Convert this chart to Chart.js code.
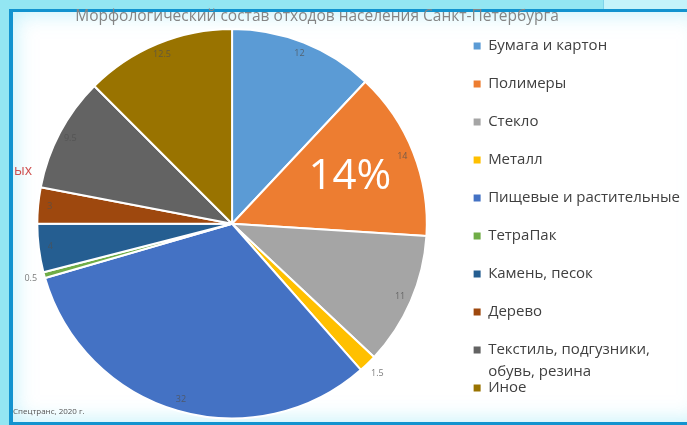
<!DOCTYPE html>
<html>
<head>
<meta charset="utf-8">
<script src="https://cdn.jsdelivr.net/npm/chart.js"></script>
<style>
html, body { margin: 0; padding: 0; width: 687px; height: 425px; overflow: hidden; background: #93e6f2; }
#panel { position: absolute; left: 9px; top: 9px; width: 690px; height: 410px; background: #fff;
  border-left: 4px solid #1293cf; border-top: 3px solid #1293cf; border-bottom: 3px solid #1293cf;
  box-shadow: inset 0 0 22px rgba(130, 225, 245, .55); }
#corner { position: absolute; left: 603px; top: 0; width: 84px; height: 9px; background: #c4f3fa; border-left: 1px solid #7fd3ea; }
#myChart { position: absolute; left: 0; top: 0; }
.note { position: absolute; font-family: 'Open Sans', sans-serif; white-space: nowrap; }
</style>
</head>
<body>
<div id="panel"></div>
<div id="corner"></div>
<canvas id="myChart" width="700" height="425"></canvas>
<div class="note" style="left:14px;top:160px;font-size:14px;color:#d0504f;">ых</div>
<div class="note" style="left:13px;top:405px;font-size:8px;color:#555;">Спецтранс, 2020 г.</div>
<script>
const chartTitle = 'Морфологический состав отходов населения Санкт-Петербурга';
const categories = [
    'Бумага и картон',
    'Полимеры',
    'Стекло',
    'Металл',
    'Пищевые и растительные',
    'ТетраПак',
    'Камень, песок',
    'Дерево',
    ['Текстиль, подгузники,', 'обувь, резина'],
    'Иное'
];
const shares = [12, 14, 11, 1.5, 32, 0.5, 4, 3, 9.5, 12.5];
const sliceColors = ['#5B9BD5', '#ED7D31', '#A5A5A5', '#FFC000', '#4472C4', '#70AD47', '#255E91', '#9E480E', '#636363', '#997300'];
const highlightIndex = 1;

const font = "'Open Sans', sans-serif";
const titleCenterX = 317;

// подписи значений на секторах + крупная подпись "14%"
const sliceLabels = {
    id: 'sliceLabels',
    afterLayout(chart) {
        // заголовок в оригинале смещён левее центра всего слайда
        const t = chart.titleBlock;
        const dx = titleCenterX - (t.left + t.right) / 2;
        t.left += dx;
        t.right += dx;
    },
    afterDatasetsDraw(chart) {
        const ctx = chart.ctx;
        const meta = chart.getDatasetMeta(0);
        ctx.save();
        ctx.textAlign = 'center';
        ctx.textBaseline = 'middle';
        meta.data.forEach((arc, i) => {
            const v = shares[i];
            const mid = (arc.startAngle + arc.endAngle) / 2;
            const r = v < 2 ? arc.outerRadius + 14 : arc.outerRadius * 0.94;
            ctx.font = '9px ' + font;
            ctx.fillStyle = 'rgba(80,80,80,0.75)';
            ctx.fillText(String(v), arc.x + Math.cos(mid) * r, arc.y + Math.sin(mid) * r);
        });
        const big = meta.data[highlightIndex];
        const m = (big.startAngle + big.endAngle) / 2;
        const br = big.outerRadius * 0.65;
        ctx.font = '42px ' + font;
        ctx.fillStyle = '#ffffff';
        ctx.fillText(shares[highlightIndex] + '%', big.x + Math.cos(m) * br, big.y + Math.sin(m) * br);
        ctx.restore();
    },
    afterDraw(chart) {
        // вторые строки подписей легенды
        const legend = chart.legend;
        const ctx = chart.ctx;
        ctx.save();
        ctx.font = '15px ' + font;
        ctx.fillStyle = '#404040';
        ctx.textBaseline = 'middle';
        legend.legendItems.forEach((item, i) => {
            if (!item.extraLines) return;
            const hb = legend.legendHitBoxes[i];
            item.extraLines.forEach((line, k) => {
                ctx.fillText(line, hb.left + 14.5, hb.top + 7.5 + 22 * (k + 1));
            });
        });
        ctx.restore();
    }
};

let myChart = new Chart(document.getElementById('myChart'), {
    type: 'pie',
    data: {
        labels: categories,
        datasets: [{
            data: shares,
            backgroundColor: sliceColors,
            borderColor: '#ffffff',
            borderWidth: 2
        }]
    },
    options: {
        responsive: false,
        animation: false,
        layout: { padding: { left: 13.5, right: 10, top: 0, bottom: 5.5 } },
        plugins: {
            tooltip: { enabled: false },
            title: {
                display: true,
                text: chartTitle,
                color: '#858585',
                font: { family: font, size: 15.5, weight: 'normal' },
                padding: { top: 7.7, bottom: 1.7 }
            },
            legend: {
                position: 'right',
                align: 'start',
                title: { display: true, text: '', font: { size: 10 }, padding: { top: 3.5, bottom: 0 } },
                labels: {
                    boxWidth: 7,
                    boxHeight: 7,
                    padding: 23,
                    color: '#404040',
                    font: { family: font, size: 15 },
                    generateLabels(chart) {
                        const items = Chart.overrides.pie.plugins.legend.labels.generateLabels(chart);
                        items.forEach(item => {
                            if (Array.isArray(item.text)) {
                                item.extraLines = item.text.slice(1);
                                item.text = item.text[0];
                            }
                            item.lineWidth = 0;
                        });
                        return items;
                    }
                }
            }
        }
    },
    plugins: [sliceLabels]
});
</script>
</body>
</html>
